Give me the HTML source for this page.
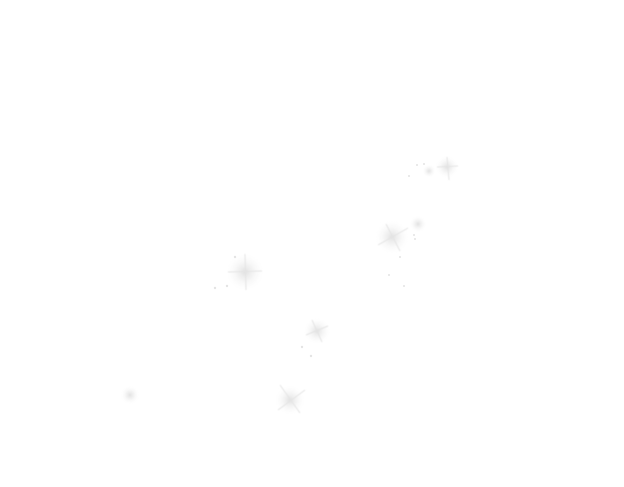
<!DOCTYPE html>
<html><head><meta charset="utf-8"><style>
html,body{margin:0;padding:0;background:#fff;width:624px;height:487px;overflow:hidden}
</style></head><body>
<svg width="624" height="487" viewBox="0 0 624 487" xmlns="http://www.w3.org/2000/svg">
<defs>
<radialGradient id="g"><stop offset="0" stop-color="#dcdcdc" stop-opacity="0.9"/><stop offset="1" stop-color="#fff" stop-opacity="0"/></radialGradient>
<filter id="b"><feGaussianBlur stdDeviation="0.4"/></filter>
</defs>
<g stroke="#e4e4e4" stroke-width="1" filter="url(#b)">
<circle cx="245" cy="272" r="20" fill="url(#g)" stroke="none"/>
<line x1="228" y1="272" x2="262" y2="271"/><line x1="245" y1="254" x2="246" y2="290"/>
<circle cx="392" cy="237" r="18" fill="url(#g)" stroke="none"/>
<line x1="378" y1="245" x2="408" y2="228"/><line x1="386" y1="224" x2="400" y2="251"/>
<circle cx="447" cy="167" r="12" fill="url(#g)" stroke="none"/>
<line x1="437" y1="167" x2="458" y2="166"/><line x1="447" y1="157" x2="449" y2="180"/>
<circle cx="418" cy="224" r="9" fill="url(#g)" stroke="none"/>
<circle cx="429" cy="171" r="7" fill="url(#g)" stroke="none"/>
<circle cx="317" cy="331" r="14" fill="url(#g)" stroke="none"/>
<line x1="306" y1="335" x2="328" y2="326"/><line x1="312" y1="320" x2="322" y2="342"/>
<circle cx="290" cy="400" r="16" fill="url(#g)" stroke="none"/>
<line x1="278" y1="410" x2="305" y2="390"/><line x1="280" y1="385" x2="300" y2="413"/>
<circle cx="130" cy="395" r="10" fill="url(#g)" stroke="none"/>
</g>
<g fill="#e4e4e4">
<circle cx="235" cy="257" r="1.2"/><circle cx="227" cy="286" r="1.2"/><circle cx="215" cy="288" r="1.2"/>
<circle cx="302" cy="347" r="1.2"/><circle cx="311" cy="356" r="1.2"/>
<circle cx="414" cy="235" r="1"/><circle cx="415" cy="239" r="1"/><circle cx="400" cy="257" r="1"/>
<circle cx="389" cy="275" r="1"/><circle cx="404" cy="286" r="1"/>
<circle cx="409" cy="176" r="1"/><circle cx="417" cy="165" r="1"/><circle cx="424" cy="164" r="1"/>
</g>
</svg>
</body></html>
